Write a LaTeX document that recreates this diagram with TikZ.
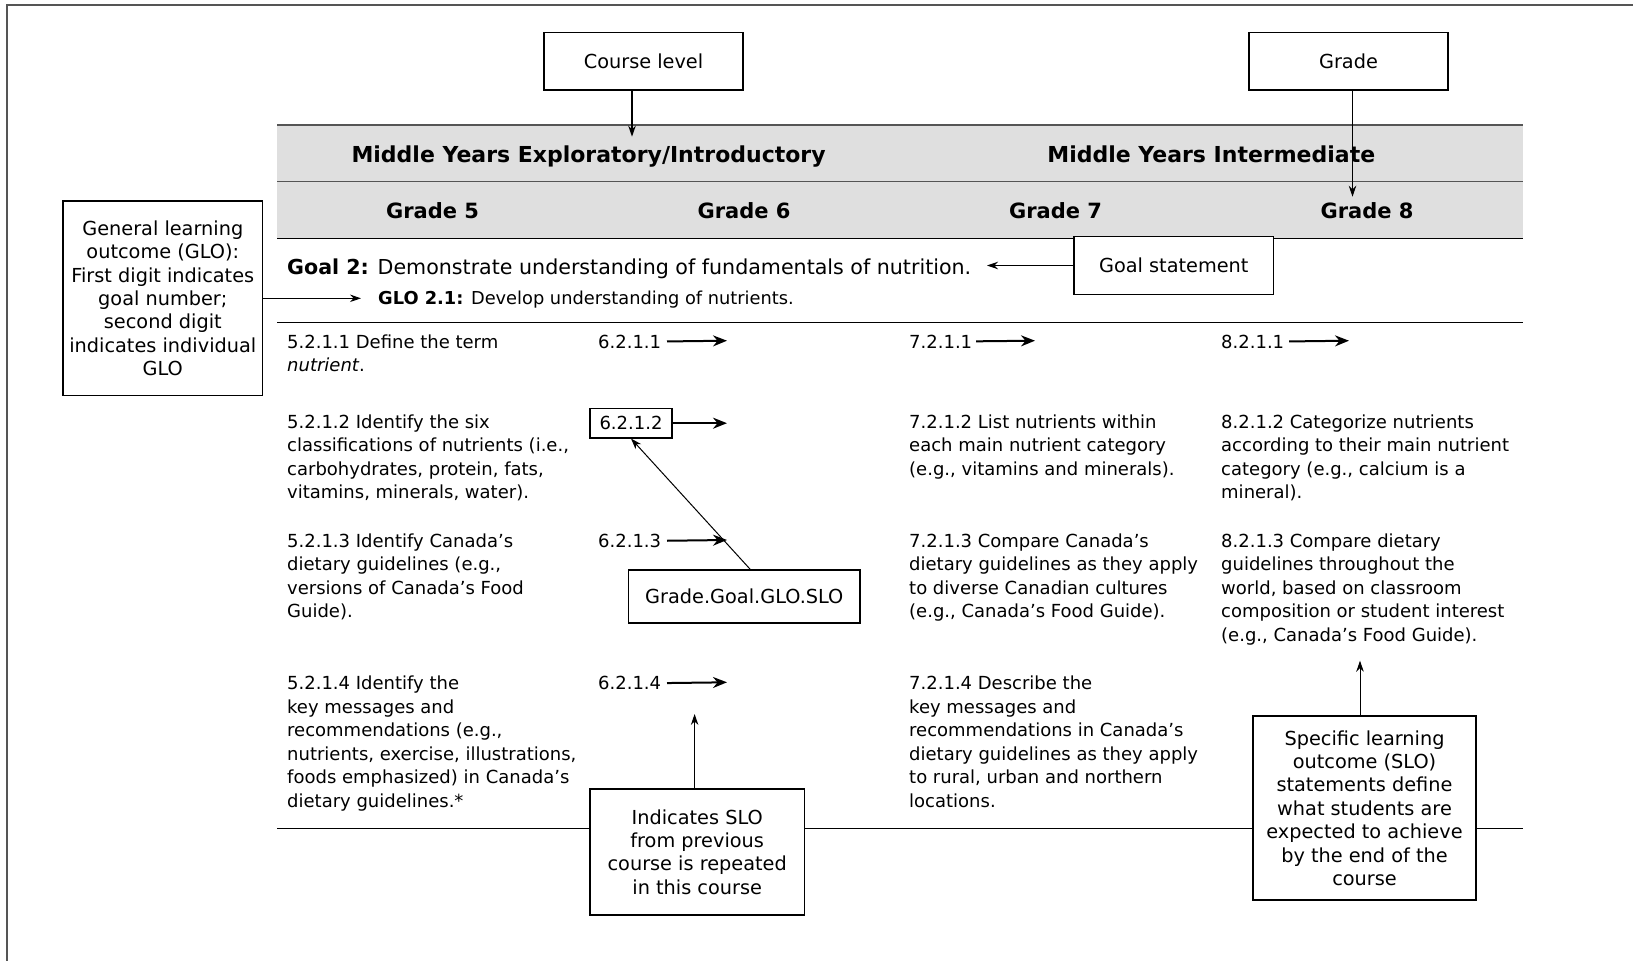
\documentclass[tikz,border=0pt]{standalone}
\usepackage{fontspec}
\setmainfont{DejaVu Sans}
\usetikzlibrary{arrows.meta}
\definecolor{bandgray}{HTML}{DFDFDF}
\definecolor{rulegray}{HTML}{555555}
\newcommand{\fs}[2]{\fontsize{#1}{#2}\selectfont}
\tikzset{
  annbox/.style={draw, line width=1.2, fill=white, align=center, inner sep=0, font=\fs{19.3}{23.4}},
  body/.style={anchor=base west, align=left, inner sep=0, font=\fs{18}{23.5}},
  code/.style={anchor=base west, inner sep=0, font=\fs{18}{23.5}},
  head/.style={anchor=base, inner sep=0, font=\fs{21}{25}\bfseries},
  heavy/.style={-{Stealth[length=14,width=11]}, line width=2},
  thin/.style={-{Stealth[length=11,width=7.5]}, line width=1},
}
\begin{document}
\begin{tikzpicture}[x=1pt,y=-1pt]
\useasboundingbox (0,0) rectangle (1633,961);
% frame
\draw[line width=2, rulegray] (7,961) -- (7,5) -- (1633,5);
% header band
\fill[bandgray] (277,125) rectangle (1522.5,238.3);
\draw[line width=1.5, rulegray] (277,125) -- (1522.5,125);
\draw[line width=1.5, rulegray] (277,181.7) -- (1522.5,181.7);
\draw[line width=1.5] (277,238.3) -- (1522.5,238.3);
\node[head, font=\fs{22}{26}\bfseries] (h1) at (588.6,162.7) {Middle Years Exploratory/Introductory};
\node[head, font=\fs{22}{26}\bfseries] (h2) at (1211.3,162.7) {Middle Years Intermediate};
\node[head] (g5) at (432.6,218.4) {Grade 5};
\node[head] (g6) at (744,218.4) {Grade 6};
\node[head] (g7) at (1055.5,218.4) {Grade 7};
\node[head] (g8) at (1367,218.4) {Grade 8};
% rules
\draw[line width=1.3] (277,322.7) -- (1522.5,322.7);
\draw[line width=1.3] (277,828.3) -- (1522.5,828.3);
% goal line
\node[anchor=base west, inner sep=0, font=\fs{20.6}{24}] (goal2) at (287,274) {\textbf{Goal 2:} Demonstrate understanding of fundamentals of nutrition.};
\node[anchor=base west, inner sep=0, font=\fs{17.8}{20}] (glo21) at (378,304) {\textbf{GLO 2.1:} Develop understanding of nutrients.};
% column 5 (base anchor = last line's baseline)
\node[body] (s51) at (287,371.5) {5.2.1.1 Define the term\\\textit{nutrient}.};
\node[body] (s52) at (287,498.5) {5.2.1.2 Identify the six\\classifications of nutrients (i.e.,\\carbohydrates, protein, fats,\\vitamins, minerals, water).};
\node[body] (s53) at (287,617.8) {5.2.1.3 Identify Canada’s\\dietary guidelines (e.g.,\\versions of Canada’s Food\\Guide).};
\node[body] (s54) at (287,807.1) {5.2.1.4 Identify the\\key messages and\\recommendations (e.g.,\\nutrients, exercise, illustrations,\\foods emphasized) in Canada’s\\dietary guidelines.*};
% column 6
\node[code] (c61) at (598,348) {6.2.1.1};
\node[draw, line width=1.2, minimum width=82, minimum height=29.5, inner sep=0, font=\fs{18}{23.5}] (b62) at (631,423.2) {6.2.1.2};
\node[code] (c63) at (598,547.3) {6.2.1.3};
\node[code] (c64) at (598,689.6) {6.2.1.4};
% column 7
\node[code] (c71) at (909,348) {7.2.1.1};
\node[body] (s72) at (909,475) {7.2.1.2 List nutrients within\\each main nutrient category\\(e.g., vitamins and minerals).};
\node[body] (s73) at (909,617.8) {7.2.1.3 Compare Canada’s\\dietary guidelines as they apply\\to diverse Canadian cultures\\(e.g., Canada’s Food Guide).};
\node[body] (s74) at (909,807.1) {7.2.1.4 Describe the\\key messages and\\recommendations in Canada’s\\dietary guidelines as they apply\\to rural, urban and northern\\locations.};
% column 8
\node[code] (c81) at (1221,348) {8.2.1.1};
\node[body] (s82) at (1221,498.5) {8.2.1.2 Categorize nutrients\\according to their main nutrient\\category (e.g., calcium is a\\mineral).};
\node[body] (s83) at (1221,641.3) {8.2.1.3 Compare dietary\\guidelines throughout the\\world, based on classroom\\composition or student interest\\(e.g., Canada’s Food Guide).};
% repeat arrows
\coordinate (t61) at (727,340.7);
\coordinate (t62) at (727,423.2);
\coordinate (t63) at (727,540);
\coordinate (t64) at (727,682.3);
\coordinate (t71) at (1035,340.7);
\coordinate (t81) at (1349,340.7);
\draw[heavy] (c61.east -| 667,0) -- (t61);
\draw[heavy] (b62.east) -- (t62);
\draw[heavy] (c63.east -| 667,0) -- (t63);
\draw[heavy] (c64.east -| 667,0) -- (t64);
\draw[heavy] (c71.east -| 976,0) -- (t71);
\draw[heavy] (c81.east -| 1289,0) -- (t81);
% annotation boxes
\node[annbox, minimum width=199, minimum height=57.7] (course) at (643.5,61.2) {Course level};
\node[annbox, minimum width=199, minimum height=57.7] (grade) at (1348.5,61.2) {Grade};
\node[annbox, minimum width=199.7, minimum height=57.6] (goalst) at (1173.8,265.5) {Goal statement};
\node[annbox, minimum width=199.5, minimum height=194.7] (glo) at (162.8,298.3) {General learning\\outcome (GLO):\\First digit indicates\\goal number;\\second digit\\indicates individual\\GLO};
\node[annbox, minimum width=231.3, minimum height=53] (ggs) at (744.3,596.5) {Grade.Goal.GLO.SLO};
\node[annbox, minimum width=214.4, minimum height=126] (ind) at (697.2,852) {Indicates SLO\\from previous\\course is repeated\\in this course};
\node[annbox, minimum width=223, minimum height=184] (spec) at (1364.5,808) {Specific learning\\outcome (SLO)\\statements define\\what students are\\expected to achieve\\by the end of the\\course};
% annotation connectors
\coordinate (cltip) at (632,136.7);
\coordinate (grtip) at (1352.5,196.7);
\coordinate (gstip) at (987,265.5);
\coordinate (glotip) at (361,298.3);
\coordinate (indtip) at (694.6,714);
\coordinate (spectip) at (1360,660.7);
\draw[thin, line width=1.6] (course.south -| cltip) -- (cltip);
\draw[thin] (grade.south -| grtip) -- (grtip);
\draw[thin] (goalst.west) -- (gstip);
\draw[thin] (glo.east) -- (glotip);
\draw[thin] ([xshift=6]ggs.north) -- (b62.south);
\draw[thin] (ind.north -| indtip) -- (indtip);
\draw[thin] (spec.north -| spectip) -- (spectip);
\end{tikzpicture}
\end{document}
